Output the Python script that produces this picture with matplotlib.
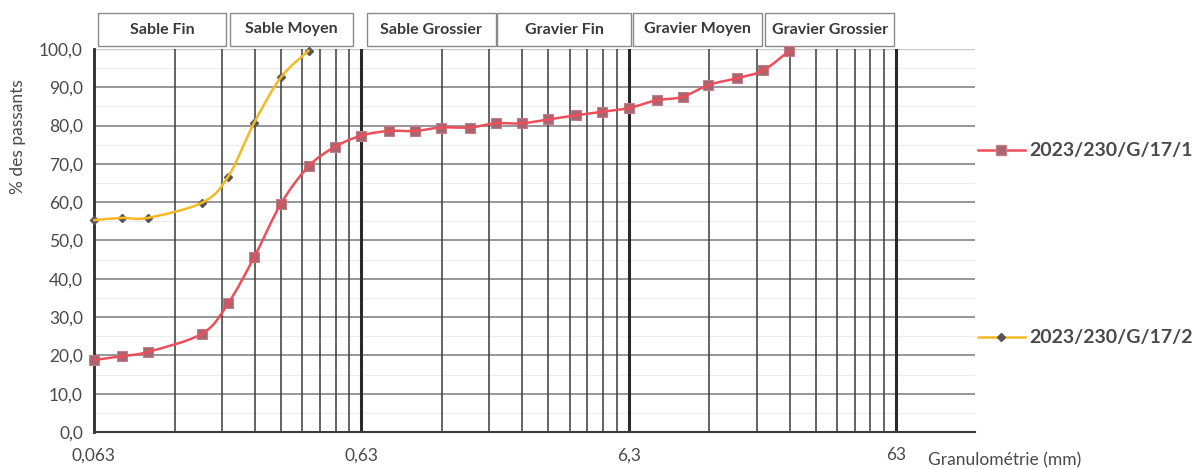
import numpy as np
import matplotlib
matplotlib.use("Agg")
import matplotlib.pyplot as plt
from matplotlib.patches import Rectangle, PathPatch
from matplotlib.path import Path
from matplotlib.lines import Line2D
import matplotlib.transforms as mtransforms

plt.rcParams['font.family'] = ['Lato', 'DejaVu Sans']

# ---- data ----
sizes_1 = [0.063, 0.08, 0.1, 0.16, 0.2, 0.25, 0.315, 0.4, 0.5, 0.63, 0.8, 1.0,
           1.25, 1.6, 2.0, 2.5, 3.15, 4.0, 5.0, 6.3, 8.0, 10.0, 12.5, 16.0, 20.0, 25.0]
passing_1 = [18.8, 19.8, 20.9, 25.7, 33.6, 45.6, 59.6, 69.4, 74.4, 77.4, 78.6, 78.6,
             79.5, 79.5, 80.6, 80.6, 81.6, 82.7, 83.6, 84.6, 86.6, 87.5, 90.6, 92.4, 94.4, 99.5]
sizes_2 = [0.063, 0.08, 0.1, 0.16, 0.2, 0.25, 0.315, 0.4]
passing_2 = [55.3, 55.9, 55.9, 59.9, 66.7, 80.7, 92.6, 99.6]
series_names = ["2023/230/G/17/1", "2023/230/G/17/2"]

x_ticks = [0.063, 0.63, 6.3, 63]
x_tick_labels = ["0,063", "0,63", "6,3", "63"]
y_ticks = list(range(0, 101, 10))
y_tick_labels = [f"{v},0" for v in y_ticks]

classes = ["Sable Fin", "Sable Moyen", "Sable Grossier", "Gravier Fin", "Gravier Moyen", "Gravier Grossier"]
class_bounds = [(0.065, 0.197), (0.204, 0.584), (0.66, 2.0), (2.03, 6.4), (6.5, 19.8), (20.3, 62.0)]

# ---- figure ----
W, H = 1194, 469
fig = plt.figure(figsize=(W / 100, H / 100), dpi=100)
ax = fig.add_axes([94 / W, 1 - 432 / H, (975 - 94) / W, (432 - 49) / H])

ax.set_xscale('log')
ax.set_xlim(0.063, 124)
ax.set_ylim(0, 100)

# grid
for v in np.arange(5, 100, 10):
    ax.axhline(v, color='#ececec', lw=0.8, zorder=0)
for v in y_ticks[1:-1]:
    ax.axhline(v, color='#7a7a7a', lw=1.1, zorder=1)
ax.axhline(100, color='#c8c8c8', lw=1.0, zorder=1)
for dec in [0.063, 0.63, 6.3]:
    for k in range(2, 10):
        ax.axvline(dec * k, color='#3a3a3a', lw=1.1, zorder=1)
for dec in [0.63, 6.3, 63]:
    ax.axvline(dec, color='#2a2a2a', lw=2.2, zorder=1)

for sp in ['top', 'right']:
    ax.spines[sp].set_visible(False)
ax.spines['left'].set_color('#2a2a2a')
ax.spines['left'].set_linewidth(2.0)
ax.spines['bottom'].set_color('#3a3a3a')
ax.spines['bottom'].set_linewidth(1.5)

ax.set_xticks(x_ticks)
ax.set_xticklabels(x_tick_labels)
ax.xaxis.set_minor_locator(matplotlib.ticker.NullLocator())
ax.set_yticks(y_ticks)
ax.set_yticklabels(y_tick_labels)
ax.tick_params(axis='both', length=0, labelsize=12.5, labelcolor='#4a4a4a')
ax.tick_params(axis='x', pad=11)
ax.tick_params(axis='y', pad=8)

red_line = '#ec4f5a'
red_mark = '#a8646f'
yel_line = '#f6b825'
yel_mark = '#555555'


def smooth_line(xs, ys, color):
    """Excel-like smoothed line: cubic Bezier through the points in display space."""
    pts = ax.transData.transform(np.column_stack([xs, ys]))
    n = len(pts)
    verts = [pts[0]]
    codes = [Path.MOVETO]
    for i in range(n - 1):
        p0 = pts[i - 1] if i > 0 else pts[i]
        p1 = pts[i]
        p2 = pts[i + 1]
        p3 = pts[i + 2] if i + 2 < n else pts[i + 1]
        c1 = p1 + (p2 - p0) / 6.0
        c2 = p2 - (p3 - p1) / 6.0
        verts += [c1, c2, p2]
        codes += [Path.CURVE4] * 3
    patch = PathPatch(Path(verts, codes), transform=mtransforms.IdentityTransform(),
                      fill=False, edgecolor=color, lw=1.8, zorder=4, clip_on=False,
                      capstyle='round', joinstyle='round')
    fig.add_artist(patch)


smooth_line(sizes_1, passing_1, red_line)
smooth_line(sizes_2, passing_2, yel_line)
ax.plot(sizes_1, passing_1, ls='none', marker='s', ms=7,
        mfc=red_mark, mec='#c0808a', mew=0.8, zorder=5, clip_on=False)
ax.plot(sizes_2, passing_2, ls='none', marker='D', ms=4.5,
        mfc=yel_mark, mec=yel_mark, zorder=5, clip_on=False)

# class boxes above the plot
trans = mtransforms.blended_transform_factory(ax.transData, ax.transAxes)
box_y0 = 1 + 3 / 383
box_h = 33 / 383
for name, (a, b) in zip(classes, class_bounds):
    r = Rectangle((a, box_y0), b - a, box_h, transform=trans, fill=True, facecolor='white',
                  edgecolor='#8a8a8a', lw=1.0, clip_on=False)
    ax.add_patch(r)
    xm = np.sqrt(a * b)
    ax.text(xm, box_y0 + box_h / 2, name, transform=trans, ha='center', va='center',
            fontsize=11.5, fontweight='bold', color='#3a3a3a', clip_on=False)

# axis titles
fig.text(18 / W, 1 - 137 / H, "% des passants", rotation=90, ha='center', va='center',
         fontsize=12.5, color='#4a4a4a')
fig.text(928 / W, 1 - 460 / H, "Granulométrie (mm)", ha='left', va='center',
         fontsize=12.5, color='#4a4a4a')

# legend (manual, on the right)
def legend_entry(y_px, color, mfc, mec, marker, ms, label):
    yf = 1 - y_px / H
    fig.add_artist(Line2D([978 / W, 1025 / W], [yf, yf], color=color, lw=1.8,
                          transform=fig.transFigure))
    fig.add_artist(Line2D([1001 / W], [yf], marker=marker, ms=ms, mfc=mfc, mec=mec,
                          transform=fig.transFigure, ls='none'))
    fig.text(1029 / W, yf, label, ha='left', va='center', fontsize=14,
             fontweight='bold', color='#4a4a4a')

legend_entry(150, red_line, red_mark, '#c0808a', 's', 7, series_names[0])
legend_entry(337, yel_line, yel_mark, yel_mark, 'D', 4.5, series_names[1])

fig.savefig("out.png", dpi=100, facecolor='white')
